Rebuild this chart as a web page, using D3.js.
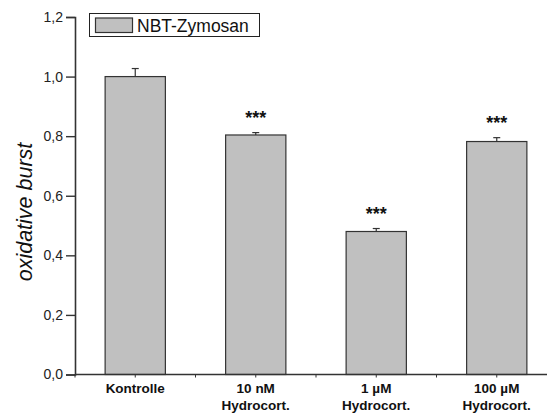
<!DOCTYPE html>
<html><head><meta charset="utf-8">
<script src="https://cdn.jsdelivr.net/npm/d3@7"></script>
<style>body{margin:0;background:#fff}svg{display:block}</style>
</head><body>
<svg id="c" width="547" height="414"></svg>
<script>
const categories = [["Kontrolle"], ["10 nM", "Hydrocort."], ["1 µM", "Hydrocort."], ["100 µM", "Hydrocort."]];
const values = [1.0, 0.804, 0.480, 0.782];
const errors = [0.027, 0.008, 0.010, 0.013];
const signif = ["", "***", "***", "***"];
const yTicks = [0, 0.2, 0.4, 0.6, 0.8, 1.0, 1.2];
const seriesName = "NBT-Zymosan";

const FONT = "Liberation Sans, Arial, sans-serif";
const svg = d3.select("#c");
const fmt = d => d.toFixed(1).replace(".", ",");
const y = d3.scaleLinear().domain([0, 1.2]).range([374.5, 17]);
const x = d3.scaleLinear().domain([0, categories.length]).range([75, 557]);

// bars
const g = svg.append("g");
values.forEach((v, i) => {
  const x0 = x(i + 0.25), x1 = x(i + 0.75), cx = x(i + 0.5);
  g.append("rect").attr("x", x0).attr("y", y(v)).attr("width", x1 - x0).attr("height", y(0) - y(v))
    .attr("fill", "#c0c0c0").attr("stroke", "#333").attr("stroke-width", 1.2);
  const et = y(v + errors[i]);
  g.append("line").attr("x1", cx).attr("x2", cx).attr("y1", y(v)).attr("y2", et).attr("stroke", "#333").attr("stroke-width", 1.2);
  g.append("line").attr("x1", cx - 3.5).attr("x2", cx + 3.5).attr("y1", et).attr("y2", et).attr("stroke", "#333").attr("stroke-width", 1.2);
  if (signif[i]) {
    g.append("text").attr("x", cx).attr("y", et - 9).attr("text-anchor", "middle")
      .attr("font-family", FONT).attr("font-weight", "bold").attr("font-size", 18)
      .attr("fill", "#111").text(signif[i]);
  }
});

// y axis
const yAxis = d3.axisLeft(y).tickValues(yTicks).tickFormat(fmt).tickSize(9).tickPadding(3);
const ya = svg.append("g").attr("transform", "translate(75,0)").call(yAxis);
ya.select(".domain").attr("stroke", "#333").attr("stroke-width", 1.6);
ya.selectAll(".tick line").attr("stroke", "#333").attr("stroke-width", 1.4);
ya.selectAll("text").attr("font-family", FONT).attr("font-size", 14).attr("fill", "#222");

// x axis
const xa = svg.append("g").attr("transform", `translate(0,${y(0)})`);
xa.append("line").attr("x1", 75).attr("x2", 547).attr("stroke", "#333").attr("stroke-width", 1.6);
d3.range(0, categories.length * 2 + 1).forEach(k => {
  xa.append("line").attr("x1", x(k / 2)).attr("x2", x(k / 2)).attr("y1", 0).attr("y2", 3).attr("stroke", "#333").attr("stroke-width", 1);
});
categories.forEach((lines, i) => {
  const t = xa.append("text").attr("x", x(i + 0.5)).attr("y", 18.5).attr("text-anchor", "middle")
    .attr("font-family", FONT).attr("font-weight", "bold").attr("font-size", 13.5).attr("fill", "#111");
  lines.forEach((l, j) => t.append("tspan").attr("x", x(i + 0.5)).attr("dy", j === 0 ? 0 : 16.5).text(l));
});

// y title
svg.append("text").attr("transform", `translate(32,212) rotate(-90)`).attr("text-anchor", "middle")
  .attr("font-family", FONT).attr("font-style", "italic").attr("font-size", 21.5).attr("fill", "#111")
  .text("oxidative burst");

// legend
const lg = svg.append("g");
lg.append("rect").attr("x", 89.5).attr("y", 13.5).attr("width", 170).attr("height", 23).attr("fill", "#fff").attr("stroke", "#222").attr("stroke-width", 1);
lg.append("rect").attr("x", 95.5).attr("y", 18).attr("width", 37).attr("height", 14.5).attr("fill", "#c0c0c0").attr("stroke", "#333").attr("stroke-width", 1.2);
lg.append("text").attr("x", 137).attr("y", 31.5).attr("font-family", FONT).attr("font-size", 17.5).attr("fill", "#111").text(seriesName);
</script>
</body></html>
